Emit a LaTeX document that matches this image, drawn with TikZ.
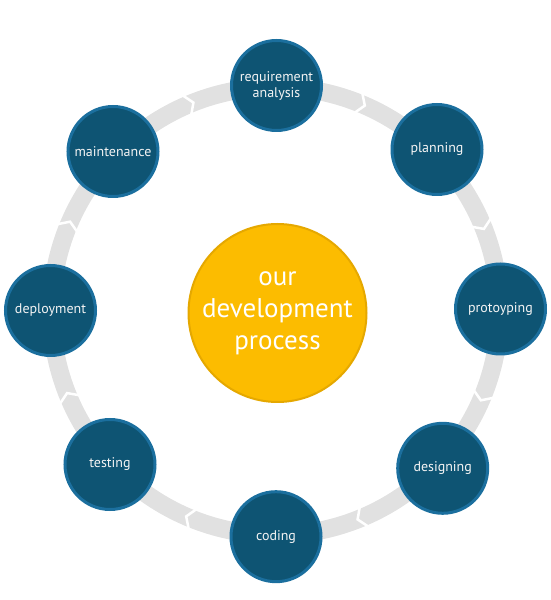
\documentclass[tikz,border=0pt]{standalone}
\usepackage{fontspec}
\setmainfont{PT Sans}
\begin{document}
\begin{tikzpicture}[x=1pt,y=1pt]
\definecolor{ringgray}{HTML}{E1E1E1}
\definecolor{stepfill}{HTML}{0E5473}
\definecolor{stepedge}{HTML}{1B6F9E}
\definecolor{corefill}{HTML}{FCBC00}
\definecolor{coreedge}{HTML}{E5A800}
\definecolor{labelwhite}{HTML}{F4F4F4}
\tikzset{
  stepnode/.style={circle, fill=stepfill, draw=stepedge, line width=3pt, minimum size=90pt, inner sep=0pt, text=labelwhite, font=\fontsize{14}{16}\selectfont, align=center},
  corenode/.style={circle, fill=corefill, draw=coreedge, line width=2pt, minimum size=178pt, inner sep=0pt, text=white, font=\fontsize{27}{32}\selectfont, align=center},
  ringband/.style={draw=ringgray, line width=18pt},
  chev/.style={draw=white, line width=2.5pt, line join=miter}
}
\useasboundingbox (0,0) rectangle (550,600);
\coordinate (C) at (275.5,289);
\draw[ringband] (C) circle (224);
\foreach \a in {67.5,22.5,-22.5,-67.5,-112.5,-157.5,157.5,112.5}{
  \draw[chev, shift={(275.5,289)}] (\a+1:236) -- (\a-1:224) -- (\a+1:212);
}
\node[stepnode] (req) at (276.5,514.5) {requirement\\analysis};
\node[stepnode] (plan) at (437,450.5) {planning};
\node[stepnode] (proto) at (500.5,291) {protoyping};
\node[stepnode] (design) at (442.7,131.7) {designing};
\node[stepnode] (coding) at (276,63.3) {coding};
\node[stepnode] (testing) at (110,135.5) {testing};
\node[stepnode] (deploy) at (50.5,289.5) {deployment};
\node[stepnode] (maint) at (113,448.5) {maintenance};
\node[corenode] (core) at (277.5,287) {our\\development\\process};
\end{tikzpicture}
\end{document}
